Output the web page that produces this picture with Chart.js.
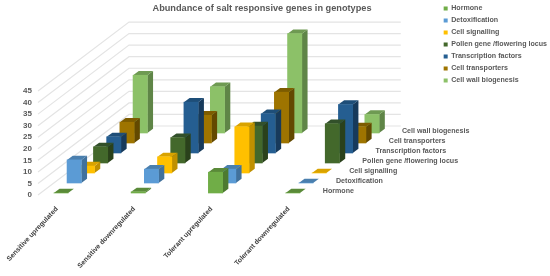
<!DOCTYPE html>
<html>
<head>
<meta charset="utf-8">
<style>
  html, body { margin: 0; padding: 0; background: #fff; }
  canvas { display: block; }
</style>
<script src="https://cdn.jsdelivr.net/npm/chart.js@4"></script>
</head>
<body>
<canvas id="chart" width="550" height="276"></canvas>
<script>
const genotypes = ['Sensitive upregulated', 'Sensitive downregulated', 'Tolerant upregulated', 'Tolerant downregulated'];
const seriesNames = ['Hormone', 'Detoxification', 'Cell signalling', 'Pollen gene /flowering locus', 'Transcription factors', 'Cell transporters', 'Cell wall biogenesis'];

const hormone = [0, 0.5, 9, 0];
const detoxification = [10, 6, 6, 0];
const cellSignalling = [3, 7, 20, 0];
const pollenGene = [7, 11, 16, 17];
const transcriptionFactors = [7, 22, 17, 21];
const cellTransporters = [9, 12, 22, 7];
const cellWall = [25, 20, 43, 8];
const seriesValues = [hormone, detoxification, cellSignalling, pollenGene, transcriptionFactors, cellTransporters, cellWall];

const frontColors = ['#70ad47', '#5b9bd5', '#ffc000', '#43682b', '#255e91', '#9e7400', '#8cc168'];
const sideColors = ['#4d7a30', '#41719c', '#bf9000', '#2a411b', '#173a5b', '#634900', '#5f8547'];
const topColors = ['#5a8a39', '#4a7fae', '#d9a300', '#32502a', '#1e4e78', '#7d5c00', '#6e9a52'];

const FONT = 'Liberation Sans, Arial, sans-serif';
const GREY = '#595959';

// fake 3D: each series sits one row further back
const rowDx = 13.2, rowDy = -10, frontDy = -2;
const barDx = 5.7, barDy = -4.2;
const wallDx = 91, wallDy = -69;

const depth3d = {
    id: 'depth3d',
    afterLayout(chart) {
        // the title is centred on the plot + legend block, not on the page
        chart.titleBlock.left = 0;
        chart.titleBlock.right = 524;
        chart.legend.left += 7;
        chart.legend.right += 7;
    },
    beforeDatasetsDraw(chart) {
        const { ctx, scales: { x, y } } = chart;
        const front = x.left - 23, right = x.right + 17;
        ctx.save();
        ctx.strokeStyle = '#e4e4e4';
        ctx.lineWidth = 1.2;
        y.ticks.forEach(t => {
            const py = y.getPixelForValue(t.value);
            ctx.beginPath();
            ctx.moveTo(front, py);
            ctx.lineTo(front + wallDx, py + wallDy);
            ctx.lineTo(right + wallDx, py + wallDy);
            ctx.stroke();
        });
        ctx.restore();
    },
    beforeDatasetDraw(chart, { index, meta }) {
        const ctx = chart.ctx;
        ctx.save();
        ctx.translate(rowDx * index, rowDy * index + frontDy);
        meta.data.forEach(bar => {
            const l = bar.x - bar.width / 2, r = bar.x + bar.width / 2;
            ctx.fillStyle = sideColors[index];
            ctx.beginPath();
            ctx.moveTo(r, bar.y);
            ctx.lineTo(r + barDx, bar.y + barDy);
            ctx.lineTo(r + barDx, bar.base + barDy);
            ctx.lineTo(r, bar.base);
            ctx.closePath();
            ctx.fill();
            ctx.fillStyle = topColors[index];
            ctx.beginPath();
            ctx.moveTo(l, bar.y);
            ctx.lineTo(l + barDx, bar.y + barDy);
            ctx.lineTo(r + barDx, bar.y + barDy);
            ctx.lineTo(r, bar.y);
            ctx.closePath();
            ctx.fill();
        });
    },
    afterDatasetDraw(chart) {
        chart.ctx.restore();
    },
    afterDatasetsDraw(chart) {
        const { ctx, scales: { x, y } } = chart;
        ctx.save();
        ctx.font = 'bold 7.1px ' + FONT;
        ctx.fillStyle = GREY;
        ctx.textBaseline = 'middle';
        seriesNames.forEach((name, i) => {
            ctx.fillText(name, x.right + 30 + rowDx * i, y.getPixelForValue(0) - 4 + rowDy * i);
        });
        ctx.restore();
    }
};

new Chart(document.getElementById('chart'), {
    type: 'bar',
    data: {
        labels: genotypes,
        datasets: seriesNames.map((name, i) => ({
            label: name,
            data: seriesValues[i],
            backgroundColor: frontColors[i],
            borderWidth: 0,
            barThickness: 14.3,
            grouped: false,
            clip: false
        }))
    },
    options: {
        responsive: false,
        animation: false,
        layout: { padding: 0 },
        scales: {
            x: {
                offset: false,
                grid: { display: false },
                border: { display: false },
                afterFit(s) { s.height = 81; },
                ticks: {
                    autoSkip: false,
                    minRotation: 47,
                    maxRotation: 47,
                    padding: 2,
                    labelOffset: -4,
                    color: '#404040',
                    font: { family: FONT, size: 6.9, weight: 'bold' }
                }
            },
            y: {
                min: 0,
                max: 45,
                grid: { display: false },
                border: { display: false },
                afterFit(s) { s.width = 61; },
                ticks: {
                    stepSize: 5,
                    autoSkip: false,
                    padding: 21,
                    color: GREY,
                    font: { family: FONT, size: 8, weight: 'bold' }
                }
            },
            // keeps the legend out at the far right of the page
            gap: {
                type: 'linear',
                position: 'right',
                grid: { display: false },
                border: { display: false },
                ticks: { display: false },
                afterFit(s) { s.width = 139; }
            }
        },
        plugins: {
            title: {
                display: true,
                text: 'Abundance of salt responsive genes in genotypes',
                fullSize: false,
                color: GREY,
                font: { family: FONT, size: 9.2, weight: 'bold' },
                padding: { top: 2.5, bottom: 77.5 }
            },
            legend: {
                position: 'right',
                align: 'start',
                maxWidth: 120,
                labels: {
                    boxWidth: 4,
                    boxHeight: 4,
                    padding: 4.9,
                    color: GREY,
                    font: { family: FONT, size: 7.1, weight: 'bold' }
                }
            },
            tooltip: { enabled: false }
        }
    },
    plugins: [depth3d]
});
</script>
</body>
</html>
